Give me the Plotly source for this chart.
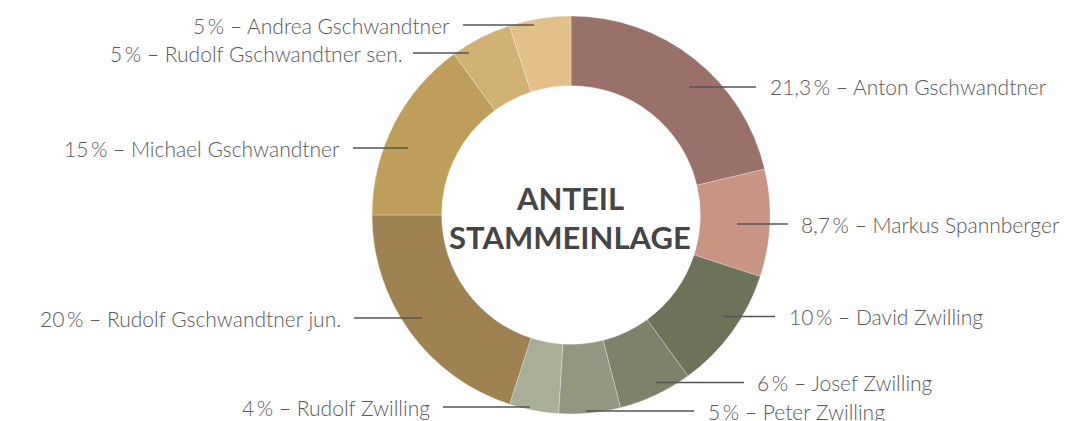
import plotly.graph_objects as go

# ---- data (clockwise from 12 o'clock) ----
names = [
    "Anton Gschwandtner", "Markus Spannberger", "David Zwilling", "Josef Zwilling",
    "Peter Zwilling", "Rudolf Zwilling", "Rudolf Gschwandtner jun.",
    "Michael Gschwandtner", "Rudolf Gschwandtner sen.", "Andrea Gschwandtner",
]
shares = [21.3, 8.7, 10, 6, 5, 4, 20, 15, 5, 5]
center_title = ["ANTEIL", "STAMMEINLAGE"]

# ---- styles ----
colors = ["#9a7169", "#c89484", "#6c7358", "#7e826a", "#93977f", "#a9ae97",
          "#9f8152", "#bf9e5c", "#d1b073", "#e3bf8a"]

W, H = 1069, 421
OFF = 8  # page body margin
CX, CY, R = 571, 215, 199

# label layout in pixels: (side, line_y, line_x_inner, line_x_outer, text_x)
label_layout = [
    ("r", 87, 689, 756, 769),
    ("r", 224, 737, 788, 800),
    ("r", 316.5, 724, 775, 788),
    ("r", 382.5, 656, 744, 756),
    ("r", 411, 586, 694, 707),
    ("l", 407, 530, 443, 431),
    ("l", 318, 422, 354, 342),
    ("l", 148, 408, 353, 341),
    ("l", 53, 469, 413, 404),
    ("l", 25, 534, 463, 451),
]


def px(x):
    return (x - OFF) / W


def py(y):
    return 1 - (y - OFF) / H


def fmt(v):
    s = ("%.1f" % v).rstrip("0").rstrip(".")
    return s.replace(".", ",")


fig = go.Figure(go.Pie(
    values=shares,
    labels=names,
    sort=False,
    direction="clockwise",
    rotation=0,
    hole=0.65,
    marker=dict(colors=colors, line=dict(color="rgba(255,255,255,0.35)", width=0.8)),
    textinfo="none",
    hoverinfo="label+percent",
    showlegend=False,
    domain=dict(x=[px(CX - R), px(CX + R)], y=[py(CY + R), py(CY - R)]),
))

label_font = dict(family="Lato", size=21, color="#585858", weight=300)
shapes = []
annotations = []
for name, v, (side, ly, xi, xo, tx) in zip(names, shares, label_layout):
    shapes.append(dict(type="line", xref="paper", yref="paper",
                       x0=px(xi), x1=px(xo), y0=py(ly), y1=py(ly),
                       line=dict(color="#555555", width=1.6)))
    annotations.append(dict(
        xref="paper", yref="paper", x=px(tx), y=py(ly),
        xanchor="left" if side == "r" else "right", yanchor="middle",
        text=f"{fmt(v)}\u2009% – {name}", showarrow=False, font=label_font,
        borderpad=0,
    ))

for i, t in enumerate(center_title):
    annotations.append(dict(
        xref="paper", yref="paper", x=px(570), y=py(198 + 39 * i),
        xanchor="center", yanchor="middle", text=f"<b>{t}</b>", showarrow=False,
        font=dict(family="Lato", size=31, color="#454545"),
    ))

fig.update_layout(
    width=W, height=H,
    margin=dict(l=0, r=0, t=0, b=0),
    paper_bgcolor="white", plot_bgcolor="white",
    shapes=shapes, annotations=annotations,
)

fig.write_html("out.html")
